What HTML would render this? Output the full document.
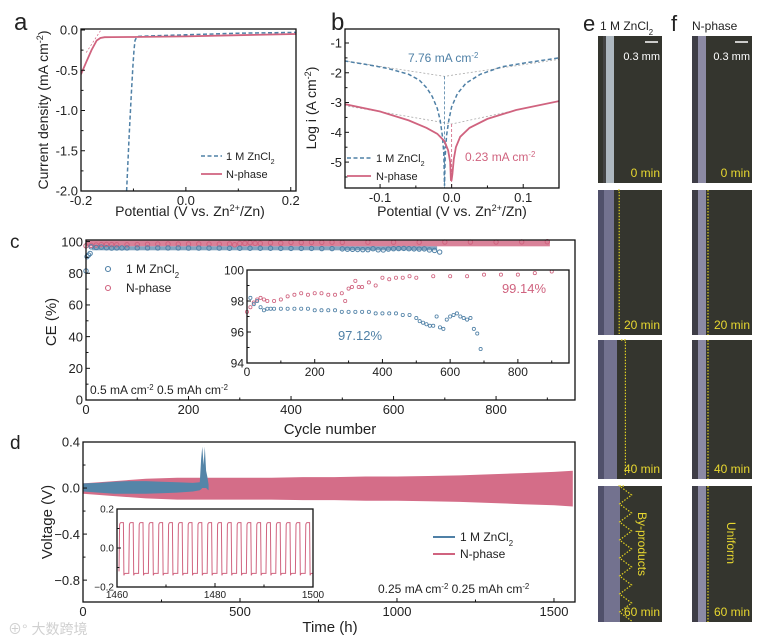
<!DOCTYPE html>
<html><head><meta charset="utf-8">
<style>
body{margin:0;background:#fff;}
svg{display:block;font-family:"Liberation Sans","Noto Sans CJK SC",sans-serif;}
</style></head>
<body>
<svg id="fig" width="759" height="641" viewBox="0 0 759 641" xmlns="http://www.w3.org/2000/svg">
<g id="root"></g>
</svg>
<script>
// ---------- DATA ----------
// panel a (LSV)
const aBlueE=[-0.113,-0.108,-0.104,-0.101,-0.099,-0.097,-0.094,-0.09,-0.05,0.0,0.1,0.21];
const aBlueI=[-2.0,-1.3,-0.8,-0.45,-0.25,-0.13,-0.09,-0.08,-0.07,-0.06,-0.04,-0.03];
const aPinkE=[-0.2,-0.19,-0.18,-0.17,-0.163,-0.155,-0.14,-0.1,0.0,0.1,0.21];
const aPinkI=[-0.55,-0.4,-0.25,-0.13,-0.1,-0.09,-0.088,-0.087,-0.08,-0.065,-0.05];
// panel b (Tafel)
const bBlueE=[-0.15,-0.12,-0.09,-0.06,-0.045,-0.035,-0.027,-0.02,-0.016,-0.013,-0.011,-0.01,-0.009,-0.007,-0.004,0.0,0.008,0.02,0.04,0.07,0.1,0.15];
const bBlueL=[-1.6,-1.72,-1.85,-2.05,-2.25,-2.5,-2.8,-3.2,-3.6,-4.1,-4.7,-5.8,-4.8,-4.1,-3.6,-3.15,-2.7,-2.35,-2.05,-1.8,-1.68,-1.5];
const bPinkE=[-0.15,-0.1,-0.06,-0.035,-0.02,-0.01,-0.005,-0.002,-0.001,0.0,0.001,0.003,0.006,0.012,0.025,0.05,0.09,0.15];
const bPinkL=[-3.05,-3.3,-3.6,-3.85,-4.05,-4.3,-4.6,-5.0,-5.6,-5.6,-5.4,-4.9,-4.5,-4.15,-3.85,-3.55,-3.25,-2.95];
// panel c (CE)
const cBlueCyc=[0,2,5,8,10,20,30,40,50,60,70,80,100,120,140,160,180,200,220,240,260,280,300,320,340,360,380,400,420,440,460,480,500,510,520,530,540,550,560,570,580,590,600,610,620,630,640,650,660,670,680,690];
const cBlueCE=[83,92,93,94,98.2,97.8,98.0,97.6,97.4,97.5,97.5,97.5,97.5,97.5,97.5,97.5,97.5,97.4,97.4,97.4,97.4,97.3,97.3,97.3,97.3,97.3,97.2,97.2,97.2,97.2,97.1,97.1,96.9,96.7,96.6,96.5,96.4,96.4,97.0,96.3,96.2,96.8,97.0,97.1,97.2,97.0,96.9,96.8,96.9,96.2,95.9,94.9];
const cPinkCyc=[0,10,20,30,40,50,60,80,100,120,140,160,180,200,220,240,260,280,290,300,310,320,330,340,360,380,400,420,440,460,480,500,550,600,650,700,750,800,850,900];
const cPinkCE=[97.3,97.6,97.9,98.1,98.2,98.1,98.0,98.0,98.1,98.3,98.4,98.5,98.4,98.5,98.5,98.4,98.4,98.5,98.0,98.8,98.9,99.3,98.9,98.9,99.2,99.0,99.5,99.4,99.5,99.5,99.6,99.5,99.6,99.6,99.6,99.7,99.7,99.7,99.8,99.9];
// panel d (voltage)
const dPinkT=[0,100,200,300,400,500,600,700,800,900,1000,1100,1200,1300,1400,1500,1560];
const dPinkUp=[0.04,0.06,0.08,0.09,0.09,0.09,0.09,0.095,0.095,0.1,0.1,0.105,0.11,0.12,0.13,0.14,0.15];
const dPinkLo=[-0.05,-0.07,-0.09,-0.1,-0.1,-0.1,-0.1,-0.105,-0.105,-0.11,-0.11,-0.115,-0.12,-0.13,-0.14,-0.15,-0.16];
const dBlueT=[0,50,100,150,200,250,300,350,372,376,380,384,388,392,396,400];
const dBlueUp=[0.04,0.045,0.055,0.06,0.06,0.055,0.05,0.045,0.05,0.25,0.36,0.2,0.36,0.15,0.1,0.03];
const dBlueLo=[-0.03,-0.04,-0.05,-0.05,-0.05,-0.045,-0.04,-0.03,-0.02,-0.01,0.0,0.0,0.0,0.0,-0.01,-0.02];
const dInsetStart=[1460,1462,1464,1466,1468,1470,1472,1474,1476,1478,1480,1482,1484,1486,1488,1490,1492,1494,1496,1498];
const dInsetHigh=[0.13,0.13,0.13,0.13,0.13,0.13,0.13,0.13,0.13,0.13,0.13,0.13,0.13,0.13,0.13,0.13,0.13,0.13,0.13,0.13];
const dInsetLow=[-0.13,-0.13,-0.13,-0.13,-0.13,-0.13,-0.13,-0.13,-0.13,-0.13,-0.13,-0.13,-0.13,-0.13,-0.13,-0.13,-0.13,-0.13,-0.13,-0.13];
// tick labels
const aXTicks=[-0.2,0.0,0.2], aYTicks=[0.0,-0.5,-1.0,-1.5,-2.0];
const bXTicks=[-0.1,0.0,0.1], bYTicks=[-1,-2,-3,-4,-5];
const cXTicks=[0,200,400,600,800], cYTicks=[0,20,40,60,80,100];
const ciXTicks=[0,200,400,600,800], ciYTicks=[94,96,98,100];
const dXTicks=[0,500,1000,1500], dYTicks=[0.4,0.0,-0.4,-0.8];
const diXTicks=[1460,1480,1500], diYTicks=[0.2,0.0,-0.2];

// ---------- HELPERS ----------
const NS="http://www.w3.org/2000/svg";
const root=document.getElementById('root');
const BLUE="#4f80a6", PINK="#d0637f";
function el(tag,attrs,parent,txt){const e=document.createElementNS(NS,tag);for(const k in attrs)e.setAttribute(k,attrs[k]);if(txt!==undefined)e.textContent=txt;(parent||root).appendChild(e);return e;}
function lin(d0,d1,r0,r1){return v=>r0+(v-d0)*(r1-r0)/(d1-d0);}
function text(x,y,s,size,anchor,name,parent,fill){const t=el('text',{x:x,y:y,'font-size':size,'text-anchor':anchor||'start',fill:fill||'#222'},parent,s);return t;}
function richText(x,y,parts,size,anchor,name,fill,rot){const t=el('text',{x:x,y:y,'font-size':size,'text-anchor':anchor||'start',fill:fill||'#222'});if(rot)t.setAttribute('transform',rot);
 parts.forEach(p=>{const ts=el('tspan',{},t,p[0]);if(p[1]==='sup'){ts.setAttribute('baseline-shift','super');ts.setAttribute('font-size',size*0.65);}if(p[1]==='sub'){ts.setAttribute('baseline-shift','sub');ts.setAttribute('font-size',size*0.65);}});return t;}
function axes(g,x0,y0,x1,y1,xs,ys,xt,yt,fmtX,fmtY,fs,minX,minY,name){
 const gg=el('g',{},g);
 const r=el('rect',{x:x0,y:y0,width:x1-x0,height:y1-y0,fill:'none',stroke:'#111','stroke-width':1.3},gg);
 
 xt.forEach(v=>{const X=xs(v);el('line',{x1:X,x2:X,y1:y1,y2:y1-4,stroke:'#111'},gg);text(X,y1+fs+1,fmtX(v),fs,'middle',name+'-xtick-label',gg);});
 yt.forEach(v=>{const Y=ys(v);el('line',{x1:x0,x2:x0+4,y1:Y,y2:Y,stroke:'#111'},gg);text(x0-3,Y+fs*0.36,fmtY(v),fs,'end',name+'-ytick-label',gg);});
 (minX||[]).forEach(v=>{const X=xs(v);el('line',{x1:X,x2:X,y1:y1,y2:y1-2.5,stroke:'#111'},gg);});
 (minY||[]).forEach(v=>{const Y=ys(v);el('line',{x1:x0,x2:x0+2.5,y1:Y,y2:Y,stroke:'#111'},gg);});
}
function path(xs,ys,X,Y){return X.map((v,i)=>(i?'L':'M')+xs(v).toFixed(1)+','+ys(Y[i]).toFixed(1)).join('');}

// ---------- PANEL LABELS ----------
text(14,30,'a',24,'start','panel-a-label');
text(331,30,'b',24,'start','panel-b-label');
text(10,248,'c',19,'start','panel-c-label');
text(10,449,'d',19,'start','panel-d-label');
text(583,31,'e',22,'start','panel-e-label');
text(671,31,'f',22,'start','panel-f-label');

// ---------- PANEL A ----------
(function(){
 const g=el('g',{});
 const x0=81,x1=296,y0=29,y1=191;
 const xs=lin(-0.2,0.21,x0,x1), ys=lin(0,-2.0,y0+1,y1);
 const clip=el('clipPath',{id:'ca'},g);el('rect',{x:x0,y:y0,width:x1-x0,height:y1-y0},clip);
 const pg=el('g',{'clip-path':'url(#ca)'},g);
 const tl=el('line',{x1:xs(-0.19),y1:ys(-0.28),x2:xs(-0.16),y2:ys(0.02),stroke:PINK,'stroke-width':0.7,'stroke-dasharray':'2,2'},pg);
 const pb=el('path',{d:path(xs,ys,aBlueE,aBlueI),fill:'none',stroke:BLUE,'stroke-width':1.5,'stroke-dasharray':'4,2.5'},pg);
 const pp=el('path',{d:path(xs,ys,aPinkE,aPinkI),fill:'none',stroke:PINK,'stroke-width':1.8},pg);
 axes(g,x0,y0,x1,y1,xs,ys,aXTicks,aYTicks,v=>v.toFixed(1),v=>v.toFixed(1),13,[-0.1,0.1],[-0.25,-0.75,-1.25,-1.75],'panel-a-axes');
 richText(190,216,[['Potential (V vs. Zn'],['2+','sup'],['/Zn)']],14,'middle','panel-a-x-title');
 richText(48,110,[['Current density (mA cm'],['-2','sup'],[')']],14,'middle','panel-a-y-title','#222','rotate(-90 48 110)');
 el('line',{x1:201,x2:222,y1:156,y2:156,stroke:BLUE,'stroke-width':1.5,'stroke-dasharray':'4,2.5'},g);
 richText(226,160,[['1 M ZnCl'],['2','sub']],11,'start','legend-entry-zncl2');
 el('line',{x1:201,x2:222,y1:174,y2:174,stroke:PINK,'stroke-width':1.8},g);
 text(226,178,'N-phase',11,'start','legend-entry-n-phase');
})();

// ---------- PANEL B ----------
(function(){
 const g=el('g',{});
 const x0=345,x1=559,y0=29,y1=188;
 const xs=lin(-0.149,0.15,x0,x1), ys=lin(-0.53,-5.87,y0,y1);
 const clip=el('clipPath',{id:'cb'},g);el('rect',{x:x0,y:y0,width:x1-x0,height:y1-y0},clip);
 const pg=el('g',{'clip-path':'url(#cb)'},g);
 const gd={fill:'none',stroke:'#aaa','stroke-width':0.8,'stroke-dasharray':'2,2'};
 el('path',Object.assign({d:`M${xs(-0.15)},${ys(-1.6)}L${xs(-0.01)},${ys(-2.12)}L${xs(0.15)},${ys(-1.55)}`},gd),pg);
 el('path',Object.assign({d:`M${xs(-0.15)},${ys(-3.1)}L${xs(0)},${ys(-3.72)}L${xs(0.15)},${ys(-2.95)}`},gd),pg);
 el('line',{x1:xs(-0.01),x2:xs(-0.01),y1:ys(-2.12),y2:y1,stroke:BLUE,'stroke-width':0.8,'stroke-dasharray':'3,2'},pg);
 el('line',{x1:xs(0),x2:xs(0),y1:ys(-3.72),y2:y1,stroke:PINK,'stroke-width':0.8,'stroke-dasharray':'3,2'},pg);
 const pb=el('path',{d:path(xs,ys,bBlueE,bBlueL),fill:'none',stroke:BLUE,'stroke-width':1.5,'stroke-dasharray':'4,2.5'},pg);
 const pp=el('path',{d:path(xs,ys,bPinkE,bPinkL),fill:'none',stroke:PINK,'stroke-width':1.8},pg);
 axes(g,x0,y0,x1,y1,xs,ys,bXTicks,bYTicks,v=>v.toFixed(1),v=>String(v),13,[-0.05,0.05],[-1.5,-2.5,-3.5,-4.5,-5.5],'panel-b-axes');
 richText(452,216,[['Potential (V vs. Zn'],['2+','sup'],['/Zn)']],14,'middle','panel-b-x-title');
 richText(316,108,[['Log i (A cm'],['-2','sup'],[')']],14,'middle','panel-b-y-title','#222','rotate(-90 316 108)');
 richText(408,62,[['7.76 mA cm'],['-2','sup']],12,'start','corrosion-current-zncl2',BLUE);
 richText(465,161,[['0.23 mA cm'],['-2','sup']],12,'start','corrosion-current-n-phase',PINK);
 el('line',{x1:347,x2:371,y1:158,y2:158,stroke:BLUE,'stroke-width':1.5,'stroke-dasharray':'4,2.5'},g);
 richText(376,162,[['1 M ZnCl'],['2','sub']],11,'start','legend-entry-zncl2-b');
 el('line',{x1:347,x2:371,y1:176,y2:176,stroke:PINK,'stroke-width':1.8},g);
 text(376,180,'N-phase',11,'start','legend-entry-n-phase-b');
})();

// ---------- PANEL C ----------
(function(){
 const g=el('g',{});
 const x0=86,x1=575,y0=240,y1=400;
 const xs=lin(0,954,x0,x1), ys=lin(0,101,y1,y0);
 const pbn=el('rect',{x:xs(0),y:ys(100.6),width:xs(905)-xs(0),height:ys(97)-ys(100.6),fill:PINK,opacity:0.8},g);
 const bb=el('rect',{x:xs(12),y:ys(97),width:xs(685)-xs(12),height:ys(94.5)-ys(97),fill:BLUE,opacity:0.7},g);
 cPinkCyc.forEach((c,i)=>{const p=el('circle',{cx:xs(c),cy:ys(cPinkCE[i]),r:2.2,fill:'none',stroke:PINK,'stroke-width':1},g);});
 cBlueCyc.forEach((c,i)=>{const p=el('circle',{cx:xs(c),cy:ys(cBlueCE[i]-1.5),r:2.2,fill:'none',stroke:BLUE,'stroke-width':1},g);});
 axes(g,x0,y0,x1,y1,xs,ys,cXTicks,cYTicks,v=>String(v),v=>String(v),13,[100,300,500,700,900],[10,30,50,70,90],'panel-c-axes');
 text(330,434,'Cycle number',15,'middle','panel-c-x-title');
 richText(56,322,[['CE (%)']],15,'middle','panel-c-y-title','#222','rotate(-90 56 322)');
 el('circle',{cx:108,cy:269,r:2.5,fill:'none',stroke:BLUE,'stroke-width':1.1},g);
 richText(126,273,[['1 M ZnCl'],['2','sub']],12,'start','legend-entry-zncl2-c');
 el('circle',{cx:108,cy:288,r:2.5,fill:'none',stroke:PINK,'stroke-width':1.1},g);
 text(126,292,'N-phase',12,'start','legend-entry-n-phase-c');
 richText(90,394,[['0.5 mA cm'],['-2','sup'],[' 0.5 mAh cm'],['-2','sup']],12,'start','panel-c-condition');
 // inset
 const ix0=247,ix1=569,iy0=270,iy1=363;
 const ixs=lin(0,951,ix0,ix1), iys=lin(94,100,iy1,iy0);
 const ib=el('rect',{x:ix0,y:iy0,width:ix1-ix0,height:iy1-iy0,fill:'#fff'},g);
 cPinkCyc.forEach((c,i)=>{if(cPinkCE[i]<94)return;const p=el('circle',{cx:ixs(c),cy:iys(cPinkCE[i]),r:1.6,fill:'none',stroke:PINK,'stroke-width':0.8},g);});
 cBlueCyc.forEach((c,i)=>{if(cBlueCE[i]<94||c<10)return;const p=el('circle',{cx:ixs(c),cy:iys(cBlueCE[i]),r:1.6,fill:'none',stroke:BLUE,'stroke-width':0.8},g);});
 axes(g,ix0,iy0,ix1,iy1,ixs,iys,ciXTicks,ciYTicks,v=>String(v),v=>String(v),12,[100,300,500,700,900],[95,97,99],'panel-c-inset-axes');
 text(524,293,'99.14%',13,'middle','n-phase-average-ce',root,PINK);
 text(360,340,'97.12%',13,'middle','zncl2-average-ce',root,BLUE);
})();

// ---------- PANEL D ----------
(function(){
 const g=el('g',{});
 const x0=83,x1=575,y0=442,y1=602;
 const xs=lin(0,1567,x0,x1), ys=lin(0.4,-0.99,y0,y1);
 const clip=el('clipPath',{id:'cd'},g);el('rect',{x:x0,y:y0,width:x1-x0,height:y1-y0},clip);
 const pg=el('g',{'clip-path':'url(#cd)'},g);
 const band=(T,U,L)=>T.map((t,i)=>(i?'L':'M')+xs(t).toFixed(1)+','+ys(U[i]).toFixed(1)).join('')+T.slice().reverse().map((t,j)=>{const i=T.length-1-j;return 'L'+xs(t).toFixed(1)+','+ys(L[i]).toFixed(1);}).join('')+'Z';
 const pb=el('path',{d:band(dPinkT,dPinkUp,dPinkLo),fill:'#d46d88'},pg);
 const bb=el('path',{d:band(dBlueT,dBlueUp,dBlueLo),fill:'#5585a8'},pg);
 axes(g,x0,y0,x1,y1,xs,ys,dXTicks,dYTicks,v=>String(v),v=>(v<0?'\u2212'+Math.abs(v).toFixed(1):v.toFixed(1)),13,[250,750,1250],[0.2,-0.2,-0.6],'panel-d-axes');
 text(330,632,'Time (h)',15,'middle','panel-d-x-title');
 richText(52,522,[['Voltage (V)']],15,'middle','panel-d-y-title','#222','rotate(-90 52 522)');
 el('line',{x1:433,x2:455,y1:537,y2:537,stroke:BLUE,'stroke-width':2},g);
 richText(460,541,[['1 M ZnCl'],['2','sub']],12,'start','legend-entry-zncl2-d');
 el('line',{x1:433,x2:455,y1:554,y2:554,stroke:PINK,'stroke-width':2},g);
 text(460,558,'N-phase',12,'start','legend-entry-n-phase-d');
 richText(378,593,[['0.25 mA cm'],['-2','sup'],[' 0.25 mAh cm'],['-2','sup']],12,'start','panel-d-condition');
 // inset
 const ix0=117,ix1=313,iy0=509,iy1=587;
 const ixs=lin(1460,1500,ix0,ix1), iys=lin(0.2,-0.2,iy0,iy1);
 const ibg=el('rect',{x:ix0,y:iy0,width:ix1-ix0,height:iy1-iy0,fill:'#fff'},g);
 let dd='';
 dInsetStart.forEach((t,i)=>{const h=iys(dInsetHigh[i]),l=iys(dInsetLow[i]);const a=ixs(t)+2,b=ixs(t+1)+2,c=ixs(t+2)+2;
  dd+=(i?'L':'M')+a.toFixed(1)+','+(l-2).toFixed(1)+'L'+(a+0.6).toFixed(1)+','+(h+2).toFixed(1)+'Q'+(a+1).toFixed(1)+','+h.toFixed(1)+' '+(a+2).toFixed(1)+','+h.toFixed(1)+'L'+(b-0.5).toFixed(1)+','+h.toFixed(1)+'L'+b.toFixed(1)+','+(l+2).toFixed(1)+'Q'+(b+0.4).toFixed(1)+','+l.toFixed(1)+' '+(b+1.5).toFixed(1)+','+l.toFixed(1)+'L'+Math.min(c,ix1).toFixed(1)+','+l.toFixed(1);});
 const sq=el('path',{d:dd,fill:'none',stroke:PINK,'stroke-width':1},g);
 axes(g,ix0,iy0,ix1,iy1,ixs,iys,diXTicks,diYTicks,v=>String(v),v=>(v<0?'\u2212'+Math.abs(v).toFixed(1):v.toFixed(1)),10,[1470,1490],[0.1,-0.1],'panel-d-inset-axes');
})();

// ---------- PANELS E/F (photos) ----------
(function(){
 const rows=[[36,183],[190,335],[340,479],[486,622]];
 const times=['0 min','20 min','40 min','60 min'];
 const cols=[[598,662,'e'],[692,752,'f']];
 richText(600,30,[['1 M ZnCl'],['2','sub']],12,'start','panel-e-title');
 text(692,30,'N-phase',12,'start','panel-f-title');
 cols.forEach((c,ci)=>{rows.forEach((r,ri)=>{
  const g=el('g',{});
  el('rect',{x:c[0],y:r[0],width:c[1]-c[0],height:r[1]-r[0],fill:'#34352e'},g);
  const sx=c[0]+8;
  if(ci===0){
   if(ri===0){el('rect',{x:sx,y:r[0],width:8,height:r[1]-r[0],fill:'#aeb8c0'},g);el('rect',{x:sx-3,y:r[0],width:3,height:r[1]-r[0],fill:'#444'},g);}
   else{const w=[0,10,13,16][ri];
    el('rect',{x:c[0],y:r[0],width:6+w,height:r[1]-r[0],fill:'#50506a'},g);
    el('rect',{x:c[0]+6,y:r[0],width:w,height:r[1]-r[0],fill:'#8a88a8',opacity:0.6},g);
    let p='M'+(c[0]+10+w)+','+r[0];for(let y=r[0];y<=r[1];y+=9){p+='L'+(c[0]+8+w+((y/9)%2?4:-1)*(ri*0.8))+','+y;}
    el('path',{d:p,fill:'none',stroke:'#e0d020','stroke-width':1.2,'stroke-dasharray':'1.5,1.5'},g);}
  } else {
   el('rect',{x:c[0]+6,y:r[0],width:8,height:r[1]-r[0],fill:'#8c8aa4'},g);
   el('rect',{x:c[0],y:r[0],width:6,height:r[1]-r[0],fill:'#3e3d46'},g);
   if(ri>0)el('line',{x1:c[0]+16,x2:c[0]+16,y1:r[0],y2:r[1],stroke:'#e0d020','stroke-width':1.2,'stroke-dasharray':'1.5,1.5'},g);
  }
  text(c[1]-2,r[1]-6,times[ri],12,'end','time-label',g,'#e8d830');
  if(ri===0){el('line',{x1:c[1]-17,x2:c[1]-4,y1:r[0]+6,y2:r[0]+6,stroke:'#fff','stroke-width':1.5},g);text(c[1]-2,r[0]+24,'0.3 mm',11,'end','scale-bar-label',g,'#fff');}
 });});
 const b1=el('text',{x:0,y:0,'font-size':12,fill:'#e8d830',transform:'translate(638,512) rotate(90)'},root,'By-products');
 const b2=el('text',{x:0,y:0,'font-size':12,fill:'#e8d830',transform:'translate(727,522) rotate(90)'},root,'Uniform');
})();
text(8,634,'\u2295\u00b0 大数跨境',14,'start','watermark',root,'#d0d0d0');
</script>
</body></html>
